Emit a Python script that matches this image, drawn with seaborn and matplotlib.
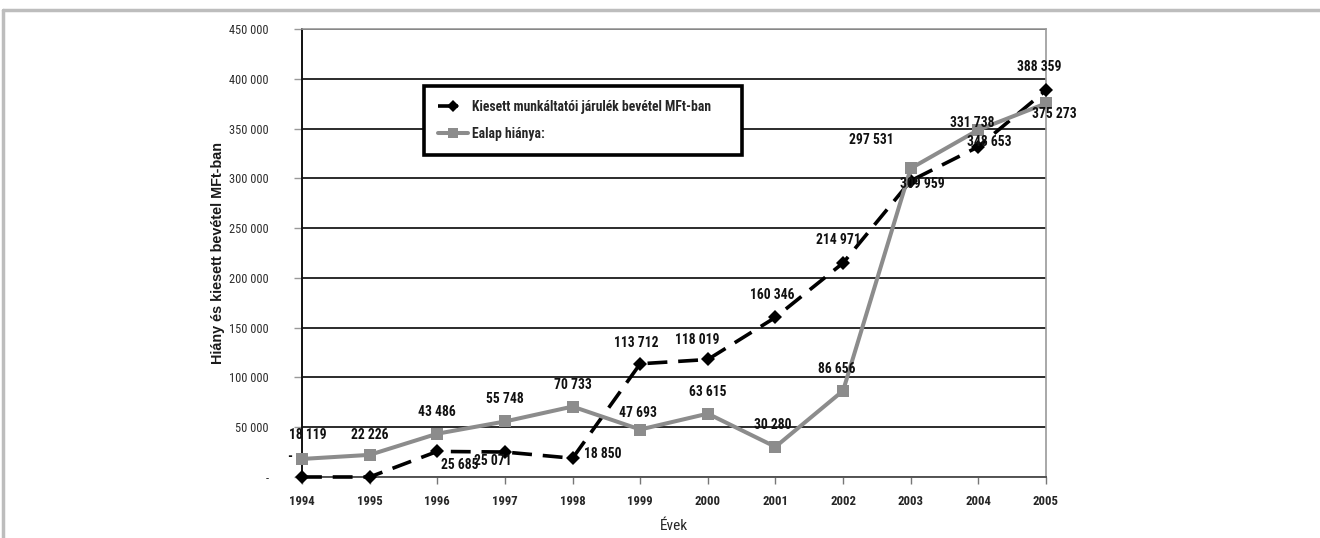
import matplotlib
matplotlib.use("Agg")
import matplotlib.pyplot as plt
from matplotlib import font_manager
from matplotlib.font_manager import FontProperties
from matplotlib.lines import Line2D
from matplotlib.ticker import FixedLocator, FuncFormatter
import seaborn as sns
import pandas as pd

# --- data -------------------------------------------------------------
years = [1994, 1995, 1996, 1997, 1998, 1999, 2000, 2001, 2002, 2003, 2004, 2005]
kiesett = [0, 0, 25685, 25071, 18850, 113712, 118019, 160346, 214971,
           297531, 331738, 388359]
ealap = [18119, 22226, 43486, 55748, 70733, 47693, 63615, 30280, 86656,
         309959, 348653, 375273]
series_names = ["Kiesett munkáltatói járulék bevétel MFt-ban", "Ealap hiánya:"]
y_ticks = [0, 50000, 100000, 150000, 200000, 250000, 300000, 350000, 400000, 450000]

# label offsets (pixels) for each data label
kiesett_off = [(-12, 20), None, (22, -14), (-12, -9), (30, 4), (-4, 21),
               (-11, 19), (-3, 22), (-5, 23), (-39, 41), (-6, 24), (-7, 23)]
ealap_off = [(6, 24), (0, 20), (0, 22), (0, 22), (0, 22), (-2, 17),
             (0, 22), (-3, 22), (-6, 22), (12, -16), (11, -12), (8, -11)]

sns.set_theme(style="white")


def pick_narrow_font():
    """Find a narrow / condensed sans family, falling back to a regular one."""
    entries = font_manager.fontManager.ttflist
    names = {e.name for e in entries}
    for fam in ["Liberation Sans Narrow", "Arial Narrow", "Roboto Condensed",
                "Open Sans Condensed", "Noto Sans Condensed", "DejaVu Sans Condensed",
                "Open Sans Condensed Bold"]:
        if fam in names:
            return fam, "normal"
    cond = ("condensed", "semi-condensed", "extra-condensed", "ultra-condensed")
    for base in ["Noto Sans", "Open Sans", "DejaVu Sans", "Roboto", "Liberation Sans"]:
        for e in entries:
            st = e.stretch
            is_cond = (st in cond) if isinstance(st, str) else (st < 500)
            if e.name == base and is_cond:
                return base, (st if isinstance(st, str) else "condensed")
    return ("Liberation Sans" if "Liberation Sans" in names else "DejaVu Sans"), "normal"


narrow_fam, narrow_stretch = pick_narrow_font()
names_all = {f.name for f in font_manager.fontManager.ttflist}
regular_fam = "Liberation Sans" if "Liberation Sans" in names_all else "DejaVu Sans"
plt.rcParams["font.family"] = [narrow_fam, "DejaVu Sans"]
plt.rcParams["font.stretch"] = narrow_stretch

fig = plt.figure(figsize=(13.2, 5.38), dpi=100)
renderer = fig.canvas.get_renderer()


def fit_size(text, target_px, weight="normal", family=None, stretch=None, cap=11.5):
    fam = family or [narrow_fam, "DejaVu Sans"]
    st = stretch or narrow_stretch
    t = fig.text(0, 0, text, fontsize=10, fontweight=weight, family=fam, fontstretch=st)
    w = t.get_window_extent(renderer).width
    t.remove()
    return min(cap, 10.0 * target_px / w)


label_size = fit_size("18 119", 38, weight="bold")
ytick_size = fit_size("450 000", 39)
xtick_size = fit_size("1994", 26, weight="bold")
legend_size = fit_size(series_names[0], 240, weight="bold")
xlabel_size = fit_size("Évek", 28)
ylabel_size = fit_size("Hiány és kiesett bevétel MFt-ban", 222, weight="bold",
                       family=[regular_fam, "DejaVu Sans"], stretch="normal")

df = pd.DataFrame({
    "year": years * 2,
    "value": kiesett + ealap,
    "series": [series_names[0]] * len(years) + [series_names[1]] * len(years),
})

ax = fig.add_axes([0.2288, 0.1134, 0.5636, 0.8327])

palette = {series_names[0]: "#000000", series_names[1]: "#8c8c8c"}
sns.lineplot(data=df, x="year", y="value", hue="series", style="series",
             palette=palette,
             markers={series_names[0]: "D", series_names[1]: "s"},
             dashes={series_names[0]: (5.5, 3), series_names[1]: ""},
             linewidth=2.6, markersize=9, markeredgewidth=0,
             clip_on=False, ax=ax, legend=True, zorder=3)

# smaller diamonds, slightly heavier grey line
for ln in ax.lines:
    if ln.get_marker() == "D":
        ln.set_markersize(7.5)
    elif ln.get_marker() == "s":
        ln.set_linewidth(2.9)


def fmt(v):
    return "-" if v == 0 else f"{v:,.0f}".replace(",", " ")


# data labels
for values, offsets in ((kiesett, kiesett_off), (ealap, ealap_off)):
    for yr, v, off in zip(years, values, offsets):
        if off is None:
            continue
        ax.annotate(fmt(v), (yr, v), xytext=off, textcoords="offset pixels",
                    ha="center", va="center", fontsize=label_size, fontweight="bold",
                    color="#111111", zorder=5, annotation_clip=False)

# axes
ax.set_xlim(1994, 2005)
ax.set_ylim(0, 450000)
ax.xaxis.set_major_locator(FixedLocator(years))
ax.yaxis.set_major_locator(FixedLocator(y_ticks))
ax.yaxis.set_major_formatter(FuncFormatter(lambda v, p: fmt(int(v))))
ax.grid(axis="y", color="#1a1a1a", linewidth=1.3, zorder=0)
ax.grid(axis="x", visible=False)
ax.set_axisbelow(True)
ax.tick_params(axis="x", direction="out", length=5, width=1, color="#777777",
               labelsize=xtick_size, pad=8)
ax.tick_params(axis="y", direction="out", length=6, width=1, color="#999999",
               labelsize=ytick_size, labelcolor="#2e2e2e", pad=18)
ax.tick_params(left=True, bottom=True)
for lab in ax.get_xticklabels():
    lab.set_fontweight("bold")
for s in ["top", "right"]:
    ax.spines[s].set_color("#9a9a9a")
    ax.spines[s].set_linewidth(1.2)
ax.spines["left"].set_color("#111111")
ax.spines["left"].set_linewidth(1.4)
ax.spines["bottom"].set_color("#555555")
ax.spines["bottom"].set_linewidth(1.4)

ax.set_xlabel("Évek", fontsize=xlabel_size, labelpad=8)
ax.set_ylabel("Hiány és kiesett bevétel MFt-ban", fontsize=ylabel_size,
              fontweight="bold", family=[regular_fam, "DejaVu Sans"],
              fontstretch="normal", color="#1a1a1a")
ax.yaxis.set_label_coords(-0.104, 0.5)

# legend
handles, labels = ax.get_legend_handles_labels()
leg_font = FontProperties(family=[narrow_fam, "DejaVu Sans"], stretch=narrow_stretch,
                          weight="bold", size=legend_size)
leg = ax.legend(handles, labels, loc="upper left",
                bbox_to_anchor=(0.164, 0.696, 0.4274, 0.177), mode="expand",
                borderaxespad=0, frameon=True, fancybox=False, edgecolor="black",
                framealpha=1, handlelength=2.2, labelspacing=1.0, borderpad=1.0,
                handletextpad=0.3, prop=leg_font)
leg.get_frame().set_linewidth(2.6)
leg.set_zorder(6)
for h in leg.get_lines():
    if h.get_marker() == "D":
        h.set_markersize(6)
    elif h.get_marker() == "s":
        h.set_markersize(7)

# outer frame lines
fig.add_artist(Line2D([0.0023, 1.0], [0.9814, 0.9814], transform=fig.transFigure,
                      color="#bdbdbd", linewidth=2.5))
fig.add_artist(Line2D([0.0023, 0.0023], [0.0, 0.9814], transform=fig.transFigure,
                      color="#bdbdbd", linewidth=2.5))

fig.savefig("out.png", dpi=100)
